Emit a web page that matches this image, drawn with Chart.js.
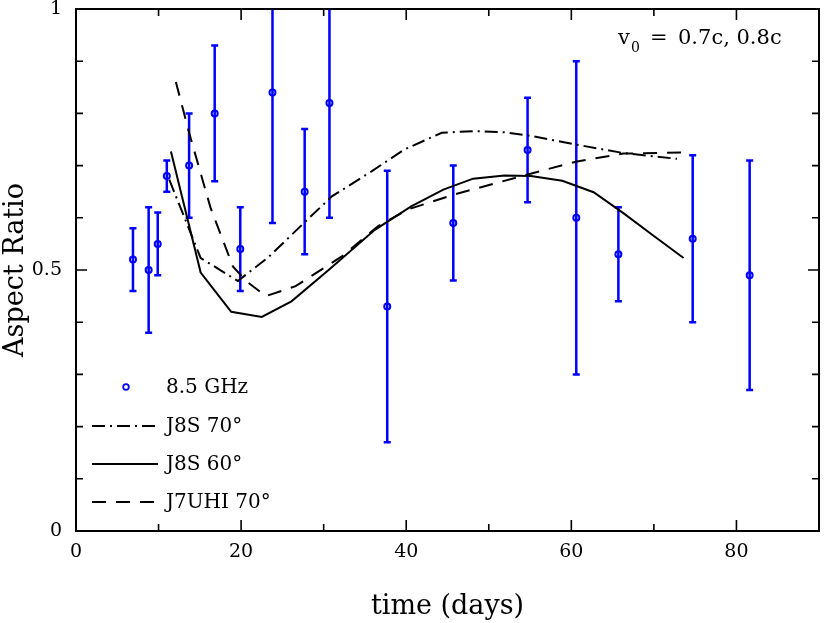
<!DOCTYPE html>
<html>
<head>
<meta charset="utf-8">
<script src="https://cdn.jsdelivr.net/npm/chart.js@4.4.0/dist/chart.umd.min.js"></script>
<style>
  body { margin: 0; background: #fff; }
  canvas { display: block; }
</style>
</head>
<body>
<canvas id="aspectChart" width="825" height="623"></canvas>
<script>
// 8.5 GHz observations
const obsDays  = [6.9, 8.8, 9.9, 11.0, 13.7, 16.8, 19.9, 23.8, 27.7, 30.7, 37.7, 45.7, 54.7, 60.6, 65.7, 74.7, 81.6];
const obsRatio = [0.52, 0.50, 0.55, 0.68, 0.70, 0.80, 0.54, 0.84, 0.65, 0.82, 0.43, 0.59, 0.73, 0.60, 0.53, 0.56, 0.49];
const obsLow   = [0.46, 0.38, 0.49, 0.65, 0.60, 0.67, 0.46, 0.59, 0.53, 0.60, 0.17, 0.48, 0.63, 0.30, 0.44, 0.40, 0.27];
const obsHigh  = [0.58, 0.62, 0.61, 0.71, 0.80, 0.93, 0.62, 1.09, 0.77, 1.04, 0.69, 0.70, 0.83, 0.90, 0.62, 0.72, 0.71];

// model curves
const j8s70Days  = [11.3, 15.1, 19.6, 23.2, 27.8, 31.0, 35.8, 39.8, 44.3, 48.3, 51.9, 55.1, 60.7, 66.3, 72.8];
const j8s70Ratio = [0.673, 0.523, 0.479, 0.523, 0.593, 0.641, 0.689, 0.731, 0.763, 0.766, 0.764, 0.757, 0.740, 0.724, 0.713];

const j8s60Days  = [11.5, 15.1, 18.8, 22.5, 26.1, 30.6, 36.2, 40.6, 44.5, 48.1, 51.9, 55.1, 58.9, 62.7, 66.3, 70.0, 73.6];
const j8s60Ratio = [0.727, 0.495, 0.42, 0.41, 0.44, 0.50, 0.577, 0.622, 0.654, 0.675, 0.681, 0.680, 0.671, 0.649, 0.609, 0.565, 0.523];

const j7uhiDays  = [12.1, 13.7, 16.3, 19.0, 20.6, 23.0, 26.6, 32.2, 36.6, 40.2, 45.9, 54.7, 60.7, 66.3, 73.6];
const j7uhiRatio = [0.86, 0.763, 0.619, 0.507, 0.479, 0.45, 0.469, 0.526, 0.584, 0.616, 0.645, 0.683, 0.708, 0.723, 0.725];

// tick marks (labelled every 20 days / 0.5)
const xTickMarks = [10, 20, 30, 40, 50, 60, 70, 80];
const yTickMarks = [0.1, 0.2, 0.3, 0.4, 0.5, 0.6, 0.7, 0.8, 0.9];

const legendLabels = ['8.5 GHz', 'J8S 70°', 'J8S 60°', 'J7UHI 70°'];

const BLUE = '#0000ff';
const FONT = "'DejaVu Serif', serif";
const DASHDOT = [13, 5, 2, 5];
const DASHED = [14, 10];

const toXY = (xs, ys) => xs.map((x, i) => ({ x: x, y: ys[i] }));

// error bars drawn under the circles, clipped to the frame
const errorBars = {
  id: 'errorBars',
  beforeDatasetsDraw(chart) {
    const { ctx, chartArea: a, scales: { x, y } } = chart;
    ctx.save();
    ctx.beginPath();
    ctx.rect(a.left, a.top, a.right - a.left, a.bottom - a.top);
    ctx.clip();
    ctx.strokeStyle = BLUE;
    ctx.lineWidth = 2.5;
    obsDays.forEach((d, i) => {
      const px = x.getPixelForValue(d);
      const lo = y.getPixelForValue(obsLow[i]);
      const hi = y.getPixelForValue(obsHigh[i]);
      ctx.beginPath();
      ctx.moveTo(px, lo); ctx.lineTo(px, hi);
      ctx.moveTo(px - 3.5, lo); ctx.lineTo(px + 3.5, lo);
      ctx.moveTo(px - 3.5, hi); ctx.lineTo(px + 3.5, hi);
      ctx.stroke();
    });
    ctx.restore();
  }
};

// box frame with inward ticks on all four sides, legend and annotation
const frameAndLegend = {
  id: 'frameAndLegend',
  afterDraw(chart) {
    const { ctx, chartArea: a, scales: { x, y } } = chart;
    ctx.save();
    ctx.strokeStyle = '#000';
    ctx.lineWidth = 2;
    ctx.strokeRect(a.left, a.top, a.right - a.left, a.bottom - a.top);

    ctx.lineWidth = 1.6;
    ctx.beginPath();
    xTickMarks.forEach(v => {
      const px = x.getPixelForValue(v);
      const len = v % 20 === 0 ? 11 : 7;
      ctx.moveTo(px, a.bottom); ctx.lineTo(px, a.bottom - len);
      ctx.moveTo(px, a.top); ctx.lineTo(px, a.top + len);
    });
    yTickMarks.forEach(v => {
      const py = y.getPixelForValue(v);
      const len = Math.abs(v - 0.5) < 1e-6 ? 11 : 7;
      ctx.moveTo(a.left, py); ctx.lineTo(a.left + len, py);
      ctx.moveTo(a.right, py); ctx.lineTo(a.right - len, py);
    });
    ctx.stroke();

    // legend, lower left inside the frame
    const lx0 = a.left + 16, lx1 = a.left + 82, tx = a.left + 90;
    const rows = [a.top + 378, a.top + 417, a.top + 455, a.top + 493];
    ctx.fillStyle = '#000';
    ctx.font = '20px ' + FONT;
    ctx.textBaseline = 'middle';
    ctx.textAlign = 'left';

    ctx.strokeStyle = BLUE;
    ctx.lineWidth = 1.8;
    ctx.beginPath();
    ctx.arc(a.left + 50, rows[0], 2.8, 0, Math.PI * 2);
    ctx.stroke();

    ctx.strokeStyle = '#000';
    ctx.lineWidth = 2;
    [DASHDOT, [], DASHED].forEach((dash, i) => {
      ctx.setLineDash(dash);
      ctx.beginPath();
      ctx.moveTo(lx0, rows[i + 1]);
      ctx.lineTo(lx1, rows[i + 1]);
      ctx.stroke();
    });
    ctx.setLineDash([]);
    legendLabels.forEach((t, i) => ctx.fillText(t, tx, rows[i] + 1));

    // v0 annotation, top right
    ctx.textBaseline = 'alphabetic';
    ctx.font = '21px ' + FONT;
    ctx.fillText('v', a.right - 201, a.top + 35);
    ctx.font = '14px ' + FONT;
    ctx.fillText('0', a.right - 188, a.top + 43);
    ctx.font = '21px ' + FONT;
    ctx.fillText('=', a.right - 169, a.top + 35);
    ctx.fillText('0.7c, 0.8c', a.right - 141, a.top + 35);
    ctx.restore();
  }
};

const config = {
  type: 'scatter',
  data: {
    datasets: [
      {
        label: legendLabels[0],
        data: toXY(obsDays, obsRatio),
        showLine: false,
        pointStyle: 'circle',
        pointRadius: 3,
        pointBorderWidth: 2,
        pointBorderColor: BLUE,
        pointBackgroundColor: 'rgba(255,255,255,0)',
        order: 0
      },
      {
        label: legendLabels[1],
        data: toXY(j8s70Days, j8s70Ratio),
        showLine: true,
        borderColor: '#000',
        borderWidth: 2,
        borderDash: DASHDOT,
        pointRadius: 0,
        tension: 0,
        order: 1
      },
      {
        label: legendLabels[2],
        data: toXY(j8s60Days, j8s60Ratio),
        showLine: true,
        borderColor: '#000',
        borderWidth: 2,
        pointRadius: 0,
        tension: 0,
        order: 1
      },
      {
        label: legendLabels[3],
        data: toXY(j7uhiDays, j7uhiRatio),
        showLine: true,
        borderColor: '#000',
        borderWidth: 2,
        borderDash: DASHED,
        pointRadius: 0,
        tension: 0,
        order: 1
      }
    ]
  },
  options: {
    responsive: false,
    animation: false,
    devicePixelRatio: 1,
    layout: { padding: { left: 0, right: 2, top: 9, bottom: 0 } },
    plugins: {
      legend: { display: false },
      tooltip: { enabled: false }
    },
    scales: {
      x: {
        type: 'linear',
        min: 0,
        max: 90,
        grid: { display: false, drawTicks: false },
        border: { display: false },
        afterFit(scale) {
          scale.height = 92;
          scale.paddingLeft = 0;
          scale.paddingRight = 0;
        },
        ticks: {
          stepSize: 20,
          padding: 10,
          color: '#000',
          font: { family: FONT, size: 19 },
          callback: v => (v % 20 === 0 ? String(v) : '')
        },
        title: {
          display: true,
          text: 'time (days)',
          color: '#000',
          font: { family: FONT, size: 27 },
          padding: { top: 0, bottom: 0 }
        }
      },
      y: {
        type: 'linear',
        min: 0,
        max: 1,
        grid: { display: false, drawTicks: false },
        border: { display: false },
        afterFit(scale) {
          scale.width = 76;
          scale.paddingTop = 0;
          scale.paddingBottom = 0;
        },
        ticks: {
          stepSize: 0.5,
          padding: 14,
          color: '#000',
          font: { family: FONT, size: 19 },
          callback: v => String(v)
        },
        title: {
          display: true,
          text: 'Aspect Ratio',
          color: '#000',
          font: { family: FONT, size: 27 },
          padding: { top: 0, bottom: 0 }
        }
      }
    }
  },
  plugins: [errorBars, frameAndLegend]
};

const aspectChart = new Chart(document.getElementById('aspectChart'), config);
</script>
</body>
</html>
